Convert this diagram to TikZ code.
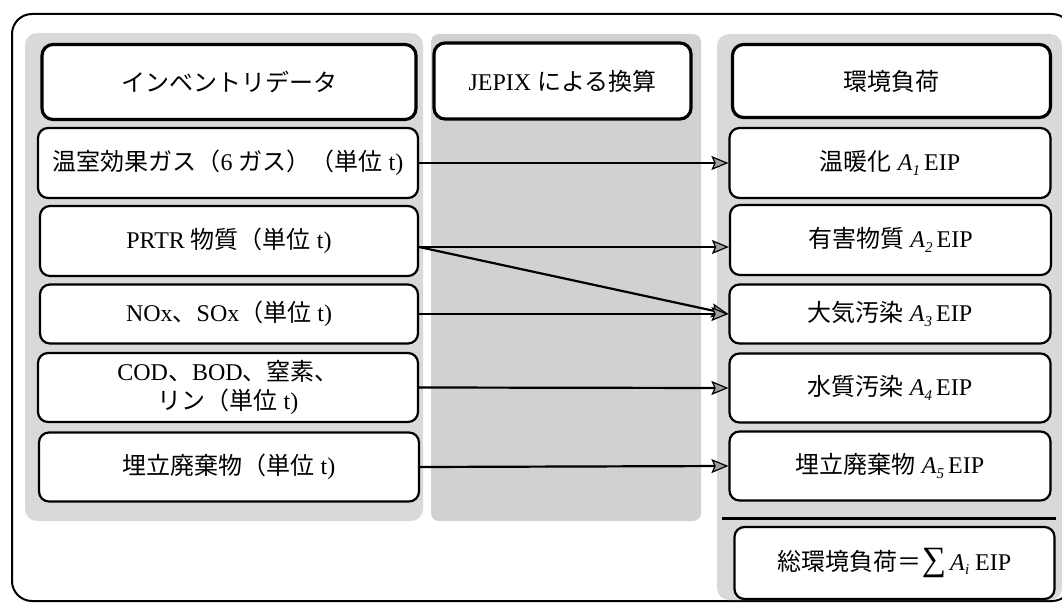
\documentclass[tikz,border=0pt]{standalone}
\usepackage{fontspec}
\setmainfont{Liberation Serif}
\newfontfamily\cjk{Noto Sans CJK JP}
\usetikzlibrary{arrows.meta}
\newcommand\Asub[1]{{\itshape A\kern0.3pt\raisebox{-0.4ex}{\fontsize{15}{15}\selectfont #1}}}
\begin{document}
\begin{tikzpicture}[x=1pt,y=-1pt,
  every node/.style={font=\fontsize{24}{28}\selectfont},
  panel/.style={fill=gray!30, rounded corners=12pt},
  midpanel/.style={fill=gray!36, rounded corners=8pt},
  hdr/.style={draw, line width=3.2pt, rounded corners=11pt, fill=white, inner sep=0pt, align=center},
  itembox/.style={draw, line width=2.2pt, rounded corners=10pt, fill=white, inner sep=0pt, align=center},
  flow/.style={line width=2.2pt, -{Stealth[length=17pt,width=14pt,inset=3pt,fill=gray!75,line width=1.2pt]}}
]
\useasboundingbox (0,0) rectangle (1062,602);
% outer frame
\draw[line width=2pt, rounded corners=20pt] (12,14) rectangle (1072,601);
% panels
\fill[panel] (25,33) rectangle (423,521);
\fill[midpanel] (431,34) rectangle (701,521);
\fill[panel] (717,34) rectangle (1062,600);
% headers
\node[hdr, minimum width=374pt, minimum height=75pt] (inv) at (229,82) {\cjk インベントリデータ};
\node[hdr, minimum width=257pt, minimum height=76pt] (jepix) at (562.5,81) {JEPIX {\cjk による換算}};
\node[hdr, minimum width=318pt, minimum height=73pt] (env) at (891.5,81) {\cjk 環境負荷};
% left items
\node[itembox, minimum width=380pt, minimum height=70pt] (L1) at (228,163) {{\cjk 温室効果ガス（}6 {\cjk ガス）（単位} t)};
\node[itembox, minimum width=378pt, minimum height=70pt] (L2) at (229,241) {PRTR {\cjk 物質（単位} t)};
\node[itembox, minimum width=378pt, minimum height=59pt] (L3) at (229,314) {NOx{\cjk 、}SOx{\cjk （単位} t)};
\node[itembox, minimum width=380pt, minimum height=69pt, font=\fontsize{24}{29}\selectfont] (L4) at (228,387.5) {COD{\cjk 、}BOD{\cjk 、窒素、}\\{\cjk リン（単位} t)};
\node[itembox, minimum width=380pt, minimum height=69pt] (L5) at (229,467) {{\cjk 埋立廃棄物（単位} t)};
% right items
\node[itembox, minimum width=321pt, minimum height=70pt] (R1) at (890,163) {{\cjk 温暖化} \Asub{1}\,EIP};
\node[itembox, minimum width=321pt, minimum height=70pt] (R2) at (890.5,240) {{\cjk 有害物質} \Asub{2}\,EIP};
\node[itembox, minimum width=321pt, minimum height=59pt] (R3) at (890,314) {{\cjk 大気汚染} \Asub{3}\,EIP};
\node[itembox, minimum width=321pt, minimum height=69pt] (R4) at (890,388) {{\cjk 水質汚染} \Asub{4}\,EIP};
\node[itembox, minimum width=321pt, minimum height=69pt] (R5) at (890,466) {{\cjk 埋立廃棄物} \Asub{5}\,EIP};
\draw[line width=3pt] (722,518.5) -- (1056,518.5);
\node[itembox, minimum width=320pt, minimum height=72pt] (tot) at (894.5,563) {\raisebox{-9pt}{{\cjk 総環境負荷＝}{\fontsize{34}{34}\selectfont∑}\,\Asub{i}\ EIP}};
% connectors
\coordinate (p2) at ([yshift=-6pt]L2.east);
\draw[flow] (L1.east) -- (R1.west);
\draw[flow] (p2) -- (p2 -| R2.west);
\draw[flow] (p2) -- (R3.west);
\draw[flow] (L3.east) -- (R3.west);
\draw[flow] (L4.east) -- (R4.west);
\draw[flow] (L5.east) -- (R5.west);
\end{tikzpicture}
\end{document}
